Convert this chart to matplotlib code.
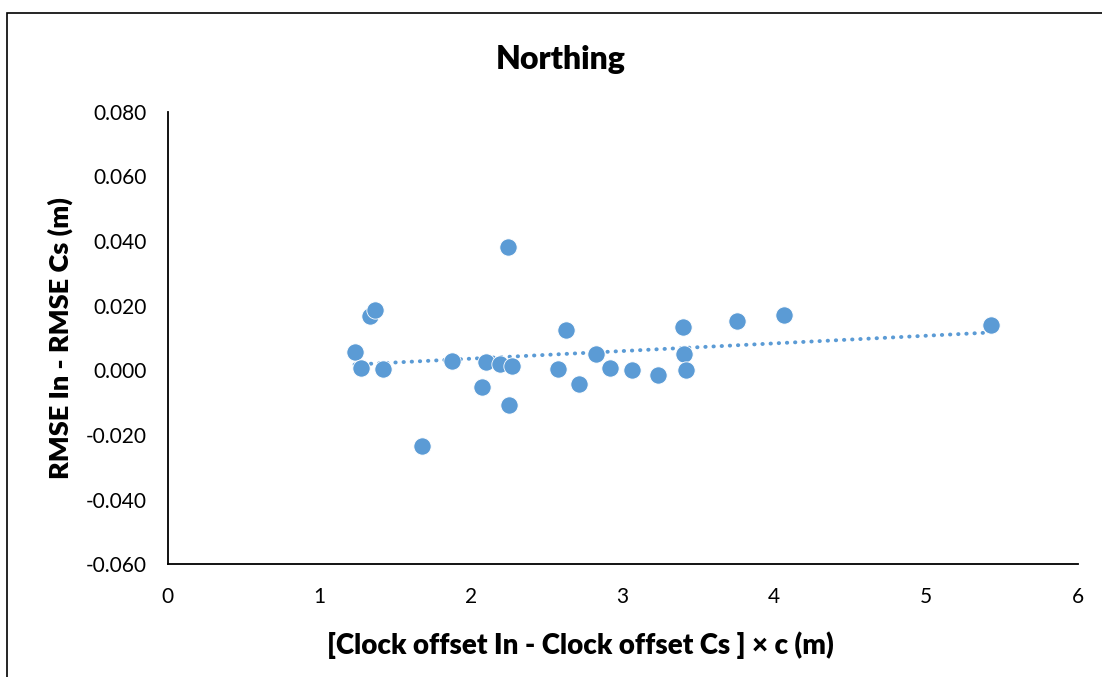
"""
Northing: RMSE difference vs clock offset difference, with linear trendline.
Writes out.png
"""
import numpy as np
import matplotlib
matplotlib.use("Agg")
import matplotlib.pyplot as plt
from matplotlib.patches import Rectangle

# clock offset difference x c (m)
clock_diff = [1.233, 1.273, 1.332, 1.369, 1.420, 1.675, 1.872, 2.075, 2.101,
              2.192, 2.245, 2.253, 2.272, 2.571, 2.624, 2.710, 2.826, 2.918,
              3.061, 3.231, 3.400, 3.404, 3.418, 3.754, 4.064, 5.426]
# RMSE In - RMSE Cs (m)
rmse_diff = [0.0058, 0.0007, 0.0169, 0.0185, 0.0003, -0.0233, 0.0029, -0.0051,
             0.0026, 0.0021, 0.0382, -0.0107, 0.0013, 0.0003, 0.0126, -0.0041,
             0.0052, 0.0007, 0.0001, -0.0015, 0.0134, 0.0052, 0.0000, 0.0152,
             0.0172, 0.0141]

x_ticks = [0, 1, 2, 3, 4, 5, 6]
y_ticks = [-0.06, -0.04, -0.02, 0.0, 0.02, 0.04, 0.06, 0.08]

BLUE = "#5B9BD5"
plt.rcParams["font.family"] = ["Lato", "DejaVu Sans"]

fig = plt.figure(figsize=(11.02, 6.77), dpi=100)
ax = fig.add_axes([0.152, 0.1662, 0.826, 0.6691])

# chart-area border (runs off the right/bottom edge like the source)
fig.patches.append(Rectangle((7 / 1102, -0.1), 1.2, 1.1 - 14 / 677 + 0.001,
                             transform=fig.transFigure, fill=False,
                             edgecolor="#000000", lw=1.2))

ax.scatter(clock_diff, rmse_diff, s=155, color=BLUE, edgecolors="white",
           linewidths=0.6, zorder=3)

# linear trendline over the data range
xs = np.array(clock_diff)
k, b = np.polyfit(xs, np.array(rmse_diff), 1)
xl = np.array([xs.min(), xs.max()])
ax.plot(xl, k * xl + b, color=BLUE, lw=2.8, linestyle=(0, (0.1, 2.0)),
        dash_capstyle="round", zorder=2)

ax.set_xlim(0, 6)
ax.set_ylim(-0.06, 0.08)
ax.set_xticks(x_ticks)
ax.set_yticks(y_ticks)
ax.set_yticklabels([f"{v:.3f}" for v in y_ticks])
ax.tick_params(length=0, labelsize=15, colors="#000000")
ax.tick_params(axis="x", pad=16)
ax.tick_params(axis="y", pad=15)
for s in ("top", "right"):
    ax.spines[s].set_visible(False)
for s in ("left", "bottom"):
    ax.spines[s].set_linewidth(1.3)
    ax.spines[s].set_color("#000000")

fig.text(561 / 1102, 1 - 60 / 677, "Northing", ha="center", va="center",
         fontsize=23, fontweight="heavy")
fig.text(580 / 1102, 1 - 645 / 677, "[Clock offset In - Clock offset Cs ] × c (m)",
         ha="center", va="center", fontsize=20, fontweight="heavy")
fig.text(60 / 1102, 1 - 338 / 677, "RMSE In - RMSE Cs (m)", ha="center",
         va="center", rotation=90, fontsize=19.5, fontweight="heavy")

fig.savefig("out.png", dpi=100)
